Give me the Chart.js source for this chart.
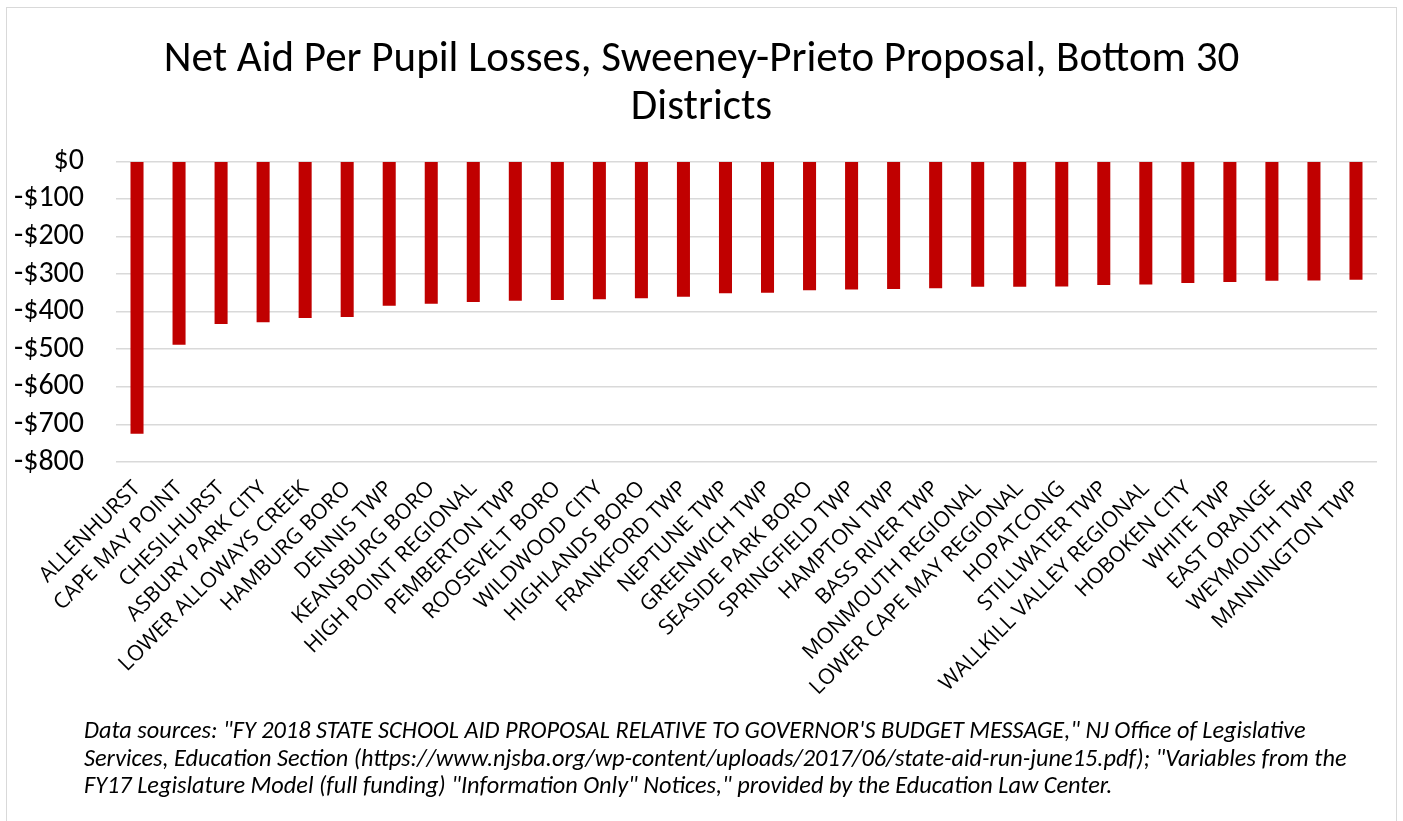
<!DOCTYPE html>
<html>
<head>
<meta charset="utf-8">
<title>Net Aid Per Pupil Losses</title>
<script src="https://cdn.jsdelivr.net/npm/chart.js@4"></script>
<style>
  html, body { margin: 0; padding: 0; background: #fff; }
  #frame {
    position: absolute; left: 6px; top: 7px; width: 1391px; height: 830px;
    border: 1.5px solid #d9d9d9; box-sizing: border-box;
  }
  #chart { position: absolute; left: 0; top: 0; }
</style>
</head>
<body>
<div id="frame"></div>
<canvas id="chart" width="1403" height="821"></canvas>
<script>
// districts, ordered from biggest loss to smallest
var districts = [
  "ALLENHURST", "CAPE MAY POINT", "CHESILHURST", "ASBURY PARK CITY",
  "LOWER ALLOWAYS CREEK", "HAMBURG BORO", "DENNIS TWP", "KEANSBURG BORO",
  "HIGH POINT REGIONAL", "PEMBERTON TWP", "ROOSEVELT BORO", "WILDWOOD CITY",
  "HIGHLANDS BORO", "FRANKFORD TWP", "NEPTUNE TWP", "GREENWICH TWP",
  "SEASIDE PARK BORO", "SPRINGFIELD TWP", "HAMPTON TWP", "BASS RIVER TWP",
  "MONMOUTH REGIONAL", "LOWER CAPE MAY REGIONAL", "HOPATCONG", "STILLWATER TWP",
  "WALLKILL VALLEY REGIONAL", "HOBOKEN CITY", "WHITE TWP", "EAST ORANGE",
  "WEYMOUTH TWP", "MANNINGTON TWP"
];

// net aid change per pupil, dollars
var netAidPerPupil = [
  -725, -488, -433, -428, -417, -414, -384, -379, -374, -371,
  -369, -367, -364, -360, -351, -350, -343, -341, -340, -338,
  -334, -334, -333, -329, -328, -324, -321, -318, -317, -315
];

var yTicks = [0, -100, -200, -300, -400, -500, -600, -700, -800];

var titleLines = ["Net Aid Per Pupil Losses, Sweeney-Prieto Proposal, Bottom 30", "Districts"];

var sourceLines = [
  "Data sources: \"FY 2018 STATE SCHOOL AID PROPOSAL RELATIVE TO GOVERNOR'S BUDGET MESSAGE,\" NJ Office of Legislative",
  "Services, Education Section (https://www.njsba.org/wp-content/uploads/2017/06/state-aid-run-june15.pdf); \"Variables from the",
  "FY17 Legislature Model (full funding) \"Information Only\" Notices,\" provided by the Education Law Center."
];

var mainFont = "Carlito, Lato, sans-serif";

function money(v) {
  return (v < 0 ? "-$" : "$") + Math.abs(v);
}

// footnote under the axis labels
var sourceNote = {
  id: "sourceNote",
  afterDraw: function (chart) {
    var ctx = chart.ctx;
    ctx.save();
    ctx.fillStyle = "#000";
    ctx.font = "italic 24.3px " + mainFont;
    ctx.textAlign = "left";
    ctx.textBaseline = "middle";
    sourceLines.forEach(function (line, i) {
      ctx.fillText(line, 84, 732 + i * 27.5);
    });
    ctx.restore();
  }
};

var ctx = document.getElementById("chart").getContext("2d");
var myChart = new Chart(ctx, {
  type: "bar",
  data: {
    labels: districts,
    datasets: [
      {
        label: "Net aid per pupil",
        data: netAidPerPupil,
        backgroundColor: "#C00000",
        borderWidth: 0,
        barPercentage: 0.31,
        categoryPercentage: 1.0
      }
    ]
  },
  options: {
    responsive: false,
    animation: false,
    layout: {
      padding: { left: 0, right: 0, top: 0, bottom: 119 }
    },
    plugins: {
      legend: { display: false },
      tooltip: { enabled: false },
      title: {
        display: true,
        text: titleLines,
        color: "#000",
        font: { family: mainFont, size: 43, weight: "normal", lineHeight: 1.12 },
        padding: { top: 36, bottom: 29 }
      }
    },
    scales: {
      x: {
        grid: { display: false, drawTicks: false },
        border: { display: false },
        afterFit: function (scale) { scale.height = 240; },
        ticks: {
          autoSkip: false,
          minRotation: 45,
          maxRotation: 45,
          padding: 14,
          color: "#000",
          font: { family: "'Open Sans', sans-serif", size: 21.5 }
        }
      },
      y: {
        min: -800,
        max: 0,
        afterFit: function (scale) { scale.width = 116; },
        afterBuildTicks: function (scale) {
          scale.ticks = yTicks.map(function (v) { return { value: v }; });
        },
        grid: { color: "#d9d9d9", lineWidth: 1.5, drawTicks: false },
        border: { display: false },
        ticks: {
          autoSkip: false,
          padding: 32,
          color: "#000",
          font: { family: mainFont, size: 30 },
          callback: function (v) { return money(v); }
        }
      },
      // empty right margin so the plot ends short of the frame
      yRight: {
        position: "right",
        grid: { display: false, drawTicks: false },
        border: { display: false },
        ticks: { display: false },
        afterFit: function (scale) { scale.width = 26; }
      }
    }
  },
  plugins: [sourceNote]
});
</script>
</body>
</html>
